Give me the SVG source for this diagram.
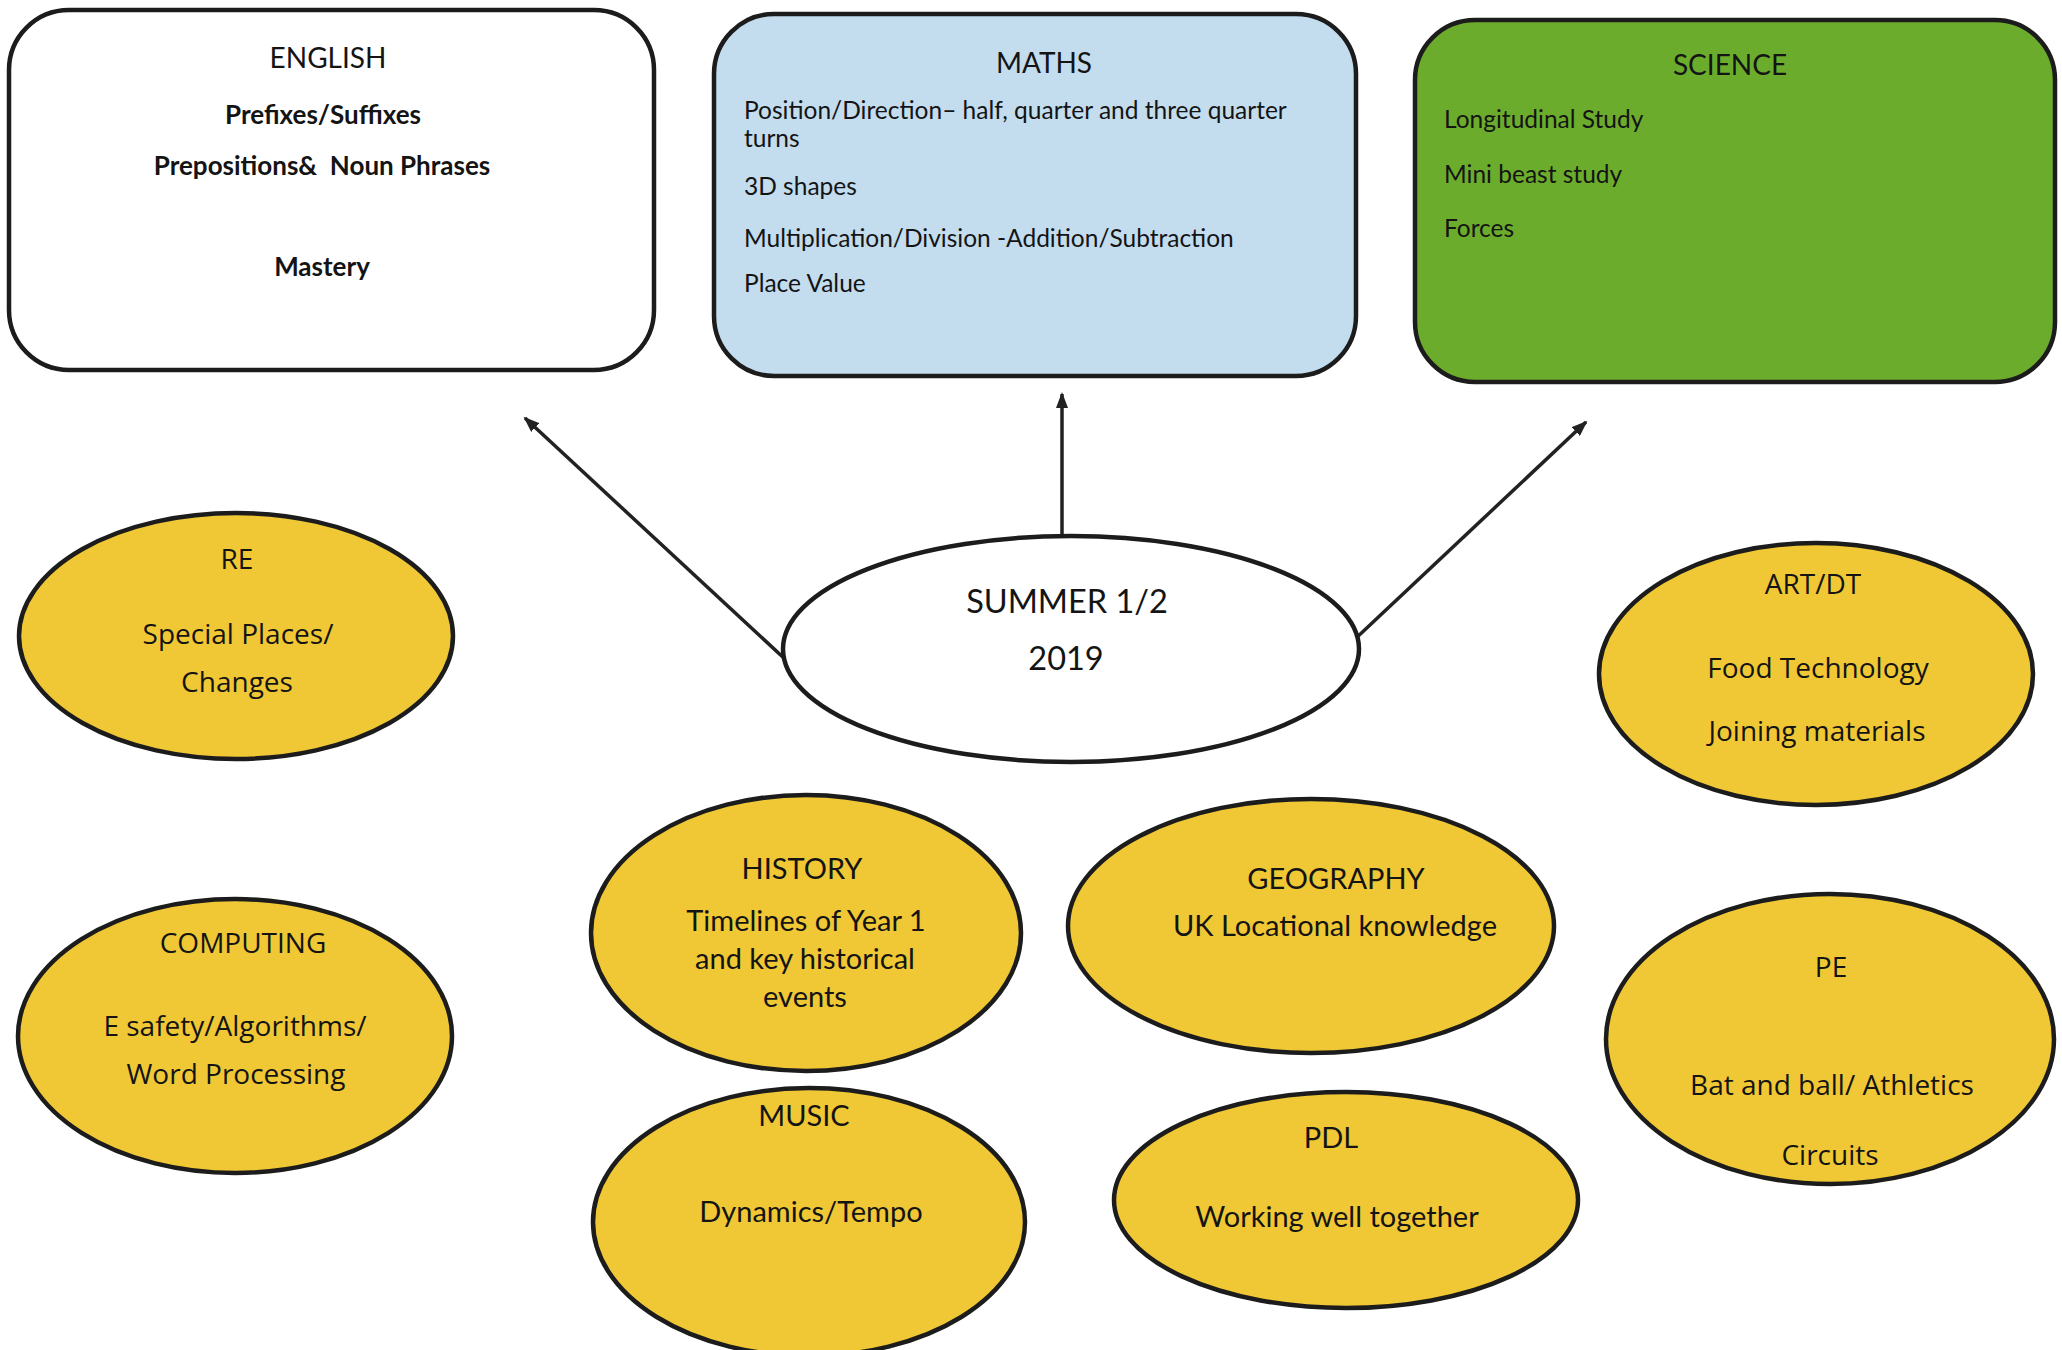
<svg xmlns="http://www.w3.org/2000/svg" width="2062" height="1350" viewBox="0 0 2062 1350">
<style>
.box{stroke:#1c1c1c;stroke-width:4.5}
.oval{fill:#f0c835;stroke:#1c1c1c;stroke-width:4.5}
.t{font-family:Lato,"Open Sans",sans-serif;fill:#141414}
.h{font-size:28px;text-anchor:middle}
.b{font-size:26px;font-weight:bold;text-anchor:middle;white-space:pre}
.m{font-size:24.5px}
.e{font-size:29px;text-anchor:middle}
.w{font-family:"Open Sans",Lato,sans-serif;fill:#141414;font-size:28px;text-anchor:middle}
.c{stroke:#222;stroke-width:3.5;fill:none;marker-end:url(#ah)}
</style>
<defs>
<marker id="ah" markerWidth="16" markerHeight="12" refX="14" refY="6" orient="auto" markerUnits="userSpaceOnUse">
<path d="M0,0 L16,6 L0,12 Z" fill="#222"/>
</marker>
</defs>
<rect width="2062" height="1350" fill="#fff"/>

<g id="connectors">
<line class="c" x1="786" y1="660" x2="525" y2="418"/>
<line class="c" x1="1062" y1="535" x2="1062" y2="394"/>
<line class="c" x1="1354" y1="640" x2="1586" y2="422"/>
</g>

<g id="english">
<rect class="box" x="9" y="10" width="645" height="360" rx="60" fill="#fff"/>
<text class="t h" x="328" y="68">ENGLISH</text>
<text class="t b" x="323" y="124">Prefixes/Suffixes</text>
<text class="t b" x="322" y="175" xml:space="preserve">Prepositions&amp;  Noun Phrases</text>
<text class="t b" x="322" y="276">Mastery</text>
</g>

<g id="maths">
<rect class="box" x="714" y="14" width="642" height="362" rx="60" fill="#c3dcee"/>
<text class="t h" x="1044" y="73">MATHS</text>
<text class="t m" x="744" y="119">Position/Direction– half, quarter and three quarter</text>
<text class="t m" x="744" y="147">turns</text>
<text class="t m" x="744" y="195">3D shapes</text>
<text class="t m" x="744" y="247">Multiplication/Division -Addition/Subtraction</text>
<text class="t m" x="744" y="292">Place Value</text>
</g>

<g id="science">
<rect class="box" x="1415" y="20" width="640" height="362" rx="60" fill="#6cac2c"/>
<text class="t h" x="1730" y="75">SCIENCE</text>
<text class="t m" x="1444" y="128">Longitudinal Study</text>
<text class="t m" x="1444" y="183">Mini beast study</text>
<text class="t m" x="1444" y="237">Forces</text>
</g>

<g id="summer">
<ellipse cx="1071" cy="649" rx="288" ry="113" fill="#fff" stroke="#1c1c1c" stroke-width="4.5"/>
<text class="t" x="1067" y="613" font-size="32.5" text-anchor="middle">SUMMER 1/2</text>
<text class="t" x="1066" y="670" font-size="32.5" text-anchor="middle">2019</text>
</g>

<g id="re">
<ellipse class="oval" cx="236" cy="636" rx="217" ry="123"/>
<text class="w" x="237" y="569">RE</text>
<text class="w" x="238" y="644">Special Places/</text>
<text class="w" x="237" y="692">Changes</text>
</g>

<g id="computing">
<ellipse class="oval" cx="235" cy="1036" rx="217" ry="137"/>
<text class="w" x="243" y="953">COMPUTING</text>
<text class="w" x="235" y="1036">E safety/Algorithms/</text>
<text class="w" x="236" y="1084">Word Processing</text>
</g>

<g id="artdt">
<ellipse class="oval" cx="1816" cy="674" rx="217" ry="131"/>
<text class="w" x="1813" y="594">ART/DT</text>
<text class="w" x="1818" y="678">Food Technology</text>
<text class="w" x="1817" y="741">Joining materials</text>
</g>

<g id="pe">
<ellipse class="oval" cx="1830" cy="1039" rx="224" ry="145"/>
<text class="w" x="1831" y="977">PE</text>
<text class="w" x="1832" y="1095">Bat and ball/ Athletics</text>
<text class="w" x="1830" y="1165">Circuits</text>
</g>

<g id="history">
<ellipse class="oval" cx="806" cy="933" rx="215" ry="138"/>
<text class="t e" x="802" y="879">HISTORY</text>
<text class="t e" x="806" y="931">Timelines of Year 1</text>
<text class="t e" x="805" y="969">and key historical</text>
<text class="t e" x="805" y="1007">events</text>
</g>

<g id="geography">
<ellipse class="oval" cx="1311" cy="926" rx="243" ry="127"/>
<text class="t e" x="1336" y="889">GEOGRAPHY</text>
<text class="t e" x="1335" y="936">UK Locational knowledge</text>
</g>

<g id="music">
<ellipse class="oval" cx="809" cy="1222" rx="216" ry="134"/>
<text class="t e" x="804" y="1126">MUSIC</text>
<text class="t e" x="811" y="1222">Dynamics/Tempo</text>
</g>

<g id="pdl">
<ellipse class="oval" cx="1346" cy="1200" rx="232" ry="108"/>
<text class="t e" x="1331" y="1148">PDL</text>
<text class="t e" x="1337" y="1227">Working well together</text>
</g>
</svg>
